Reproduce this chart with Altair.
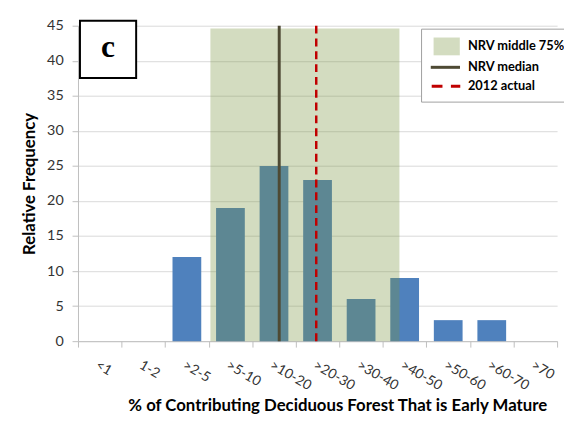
import json
import altair as alt
import pandas as pd

categories = ["<1", "1-2", ">2-5", ">5-10", ">10-20", ">20-30", ">30-40", ">40-50", ">50-60", ">60-70", ">70"]
frequency = [0, 0, 12, 19, 25, 23, 6, 9, 3, 3, 0]
y_ticks = [0, 5, 10, 15, 20, 25, 30, 35, 40, 45]

# NRV quantities on the category-index axis (0 = left edge of "<1")
nrv_low = 3.04
nrv_high = 7.38
nrv_top = 44.6
nrv_median = 4.62
actual_2012 = 5.47
line_top = 45

legend_names = ["NRV middle 75%", "NRV median", "2012 actual"]
legend_colors = ["#d3dcc0", "#4e4a34", "#c00000"]
legend_shapes = [
    "M-1.4,-0.95H1.4V0.95H-1.4Z",
    "M-1.7,-0.16H1.42V0.16H-1.7Z",
    "M-1.6,-0.15H-0.45V0.15H-1.6ZM0.45,-0.15H1.45V0.15H0.45Z",
]

W, H = 486, 320
n = len(categories)

bars_df = pd.DataFrame({"idx": list(range(n)), "cat": categories, "freq": frequency})
shade_df = pd.DataFrame({"lo": [nrv_low], "hi": [nrv_high], "top": [nrv_top]})
median_df = pd.DataFrame({"x": [nrv_median], "top": [line_top]})
actual_df = pd.DataFrame({"x": [actual_2012], "top": [line_top]})
legend_df = pd.DataFrame({"series": legend_names})
panel_df = pd.DataFrame({"label": ["c"]})

label_expr = "datum.value < %d ? %s[datum.value] : ''" % (n, json.dumps(categories))

x_scale = alt.Scale(domain=[0, n], nice=False, zero=False)
y_scale = alt.Scale(domain=[0, 45], nice=False)

x_axis = alt.Axis(
    values=list(range(n + 1)), labelExpr=label_expr, title="% of Contributing Deciduous Forest That is Early Mature",
    labelAngle=30, labelAlign="left", labelBaseline="top", labelOffset=W / n / 2,
    labelPadding=11, tickSize=6, labelOverlap=False, labelFlush=False, grid=False,
    titleX=263, titleY=65, titleBaseline="middle", titleFontSize=17,
)
y_axis = alt.Axis(
    values=y_ticks, title="Relative Frequency", tickSize=6,
    labelPadding=9, grid=True, titleFontSize=17, titlePadding=8,
)

bars = alt.Chart(bars_df).transform_calculate(
    x0="datum.idx + 0.17", x1="datum.idx + 0.83"
).mark_rect(color="#4f81bd").encode(
    x=alt.X("x0:Q", scale=x_scale, axis=x_axis),
    x2="x1:Q",
    y=alt.Y("freq:Q", scale=y_scale, axis=y_axis),
    y2=alt.datum(0),
)

shade = alt.Chart(shade_df).mark_rect(color="#7a9540", opacity=0.33).encode(
    x=alt.X("lo:Q", scale=x_scale, axis=x_axis), x2="hi:Q",
    y=alt.Y("top:Q", scale=y_scale, axis=y_axis), y2=alt.datum(0)
)

median = alt.Chart(median_df).mark_rule(color="#4e4a34", strokeWidth=3).encode(
    x=alt.X("x:Q", scale=x_scale, axis=x_axis),
    y=alt.Y("top:Q", scale=y_scale, axis=y_axis), y2=alt.datum(0)
)

actual = alt.Chart(actual_df).mark_rule(color="#c00000", strokeWidth=2.5, strokeDash=[8, 5]).encode(
    x=alt.X("x:Q", scale=x_scale, axis=x_axis),
    y=alt.Y("top:Q", scale=y_scale, axis=y_axis), y2=alt.datum(0)
)

legend_layer = alt.Chart(legend_df).transform_filter("false").mark_point(
    filled=True, strokeWidth=0, opacity=1
).encode(
    color=alt.Color("series:N", scale=alt.Scale(domain=legend_names, range=legend_colors), legend=alt.Legend(
        title=None, orient="none", legendX=348, legendY=3, padding=8.5, symbolOffset=8,
        symbolSize=361, symbolStrokeWidth=0, labelOffset=12, rowPadding=2.2,
        labelFont="Lato", labelFontWeight="bold", labelFontSize=13, labelColor="#000000",
        strokeColor="#a0a0a0", fillColor="#ffffff", cornerRadius=0, symbolOpacity=1,
    )),
    shape=alt.Shape("series:N", scale=alt.Scale(domain=legend_names, range=legend_shapes)),
)

panel_box = alt.Chart(panel_df).mark_rect(fill="white", stroke="black", strokeWidth=2).encode(
    x=alt.value(2), x2=alt.value(59), y=alt.value(-5), y2=alt.value(53)
)
panel_text = alt.Chart(panel_df).mark_text(
    font="Liberation Serif", fontWeight="bold", fontSize=32, baseline="middle", align="center", color="black"
).encode(x=alt.value(30.5), y=alt.value(22), text="label:N")

chart = alt.layer(bars, shade, median, actual, legend_layer, panel_box, panel_text).properties(
    width=W, height=H,
    autosize=alt.AutoSizeParams(type="none"),
    padding={"left": 71, "top": 15, "right": 7, "bottom": 78},
).configure_view(stroke=None).configure_axis(
    labelFont="Lato", labelFontSize=14, labelColor="#333333",
    titleFont="Lato", titleFontWeight="bold", titleColor="#000000",
    domainColor="#bfbfbf", tickColor="#bfbfbf", gridColor="#d9d9d9",
).configure_axisY(labelFontSize=14.5)

chart.save("out.html", embed_options={"renderer": "svg", "actions": False})
